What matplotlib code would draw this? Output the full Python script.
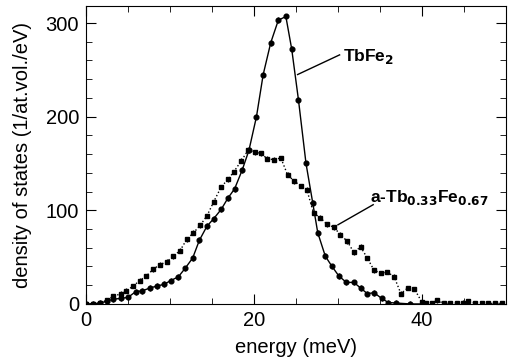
import numpy as np
import matplotlib.pyplot as plt
from matplotlib.ticker import MultipleLocator

plt.rcParams['font.family'] = ['Liberation Sans', 'DejaVu Sans']

# crystalline TbFe2 (circles, solid line)
e_tbfe2 = [0, 0.8, 1.7, 2.5, 3.2, 4.2, 5.0, 5.9, 6.7, 7.6, 8.4, 9.3, 10.1, 11.0,
           11.8, 12.7, 13.5, 14.4, 15.2, 16.1, 16.9, 17.7, 18.6, 19.4, 20.3,
           21.1, 22.0, 22.9, 23.8, 24.5, 25.3, 26.2, 27.0, 27.6, 28.5, 29.3,
           30.1, 31.0, 31.9, 32.7, 33.5, 34.3, 35.2, 36.0, 36.9, 38.6, 40.2]
dos_tbfe2 = [0, 0, 1, 3, 5, 6, 7, 13, 14, 17, 19, 21, 25, 29,
             38, 49, 68, 83, 91, 101, 113, 123, 143, 164, 200,
             245, 279, 303, 307, 272, 218, 150, 108, 76, 51, 40,
             30, 23, 23, 17, 11, 12, 6, 1.5, 1, 0, 0]

# amorphous Tb0.33Fe0.67 (squares, dotted line)
e_amorph = [0, 0.8, 1.7, 2.5, 3.2, 4.2, 4.8, 5.6, 6.4, 7.2, 8.0, 8.8, 9.6, 10.4,
            11.2, 12.0, 12.8, 13.6, 14.4, 15.2, 16.1, 16.9, 17.6, 18.5, 19.3,
            20.1, 20.8, 21.6, 22.4, 23.2, 24.0, 24.8, 25.6, 26.3, 27.1, 27.9,
            28.7, 29.5, 30.3, 31.1, 31.9, 32.7, 33.5, 34.3, 35.1, 35.9, 36.7,
            37.5, 38.3, 39.1, 40.0, 40.5, 41.2, 41.8, 42.6, 43.4, 44.2, 44.9,
            45.5, 46.3, 47.1, 47.9, 48.7, 49.5]
dos_amorph = [0, 0, 1, 4, 8, 11, 14, 19, 25, 30, 37, 42, 45, 51,
              57, 69, 76, 84, 94, 109, 125, 133, 141, 153, 164,
              162, 161, 155, 154, 156, 138, 131, 126, 122, 97, 92,
              85, 82, 74, 67, 55, 61, 49, 36, 33, 34, 29,
              11, 17, 16, 2, 1, 1, 4, 0.5, 0.5, 1, 1.5,
              3, 1, 0.5, 0.5, 0.5, 0.5]

fig = plt.figure(figsize=(5.12, 3.64), dpi=100)
ax = fig.add_axes([0.168, 0.165, 0.82, 0.818])

ax.errorbar(e_amorph, dos_amorph, yerr=2.5, fmt='s', ls=':', color='black',
            ms=3.0, lw=1.0, elinewidth=0.8, capsize=0)
ax.errorbar(e_tbfe2, dos_tbfe2, yerr=3, fmt='o', ls='-', color='black',
            ms=3.4, lw=1.0, elinewidth=0.8, capsize=0)

# labels with leader lines
ax.plot([25.2, 30.2], [245, 266], color='black', lw=1.0)
ax.text(30.6, 264, 'TbFe$_\\mathbf{2}$', fontsize=12.5, fontweight='bold', va='center')
ax.plot([30.0, 34.2], [84.5, 106], color='black', lw=1.0)
ax.text(33.8, 114, 'a-Tb$_\\mathbf{0.33}$Fe$_\\mathbf{0.67}$', fontsize=12.5,
        fontweight='bold', va='center')

ax.set_xlim(0, 50)
ax.set_ylim(0, 318)
ax.xaxis.set_major_locator(MultipleLocator(20))
ax.xaxis.set_minor_locator(MultipleLocator(5))
ax.yaxis.set_major_locator(MultipleLocator(100))
ax.yaxis.set_minor_locator(MultipleLocator(20))
ax.tick_params(which='both', direction='in', top=True, right=True, labelsize=14.5)
ax.tick_params(which='major', length=7, pad=5)
ax.tick_params(which='minor', length=4)

ax.set_xlabel('energy (meV)', fontsize=14.5, labelpad=6)
ax.set_ylabel('density of states (1/at.vol./eV)', fontsize=14.5, labelpad=10)

plt.savefig('out.png', dpi=100)
